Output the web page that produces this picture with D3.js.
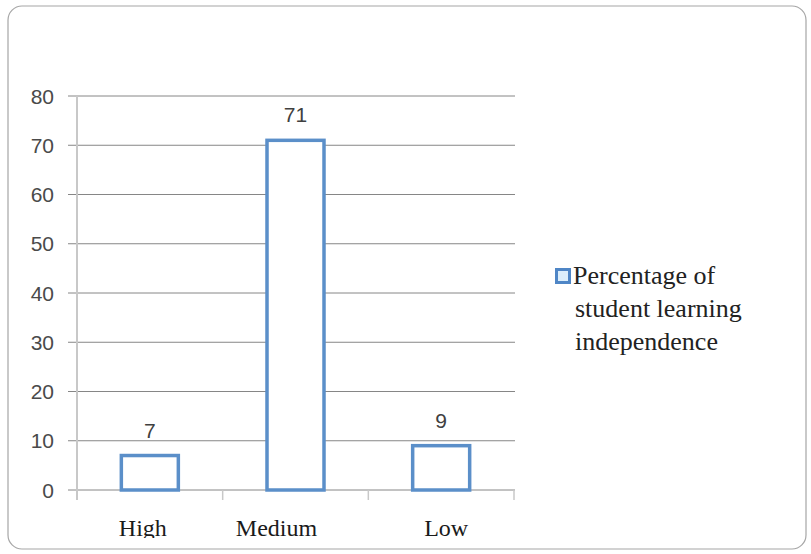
<!DOCTYPE html>
<html><head><meta charset="utf-8">
<script src="https://cdn.jsdelivr.net/npm/d3@7"></script>
<style>body{margin:0;background:#fff}svg{display:block}</style>
</head><body>
<script>
const categories = ["High", "Medium", "Low"];
const values = [7, 71, 9];
const yTicks = [0, 10, 20, 30, 40, 50, 60, 70, 80];
const legendLines = ["Percentage of", "student learning", "independence"];

const W = 811, H = 554;
const svg = d3.select("body").append("svg").attr("width", W).attr("height", H);

svg.append("rect").attr("x", 8).attr("y", 6).attr("width", 798).attr("height", 543)
  .attr("rx", 14).attr("fill", "#fff").attr("stroke", "#a6a6a6").attr("stroke-width", 1.2);

svg.append("defs").append("clipPath").attr("id", "clip")
  .append("rect").attr("x", 0).attr("y", 0).attr("width", W).attr("height", 538);

const x = d3.scaleBand().domain(categories).range([77, 514]).paddingInner(0).paddingOuter(0);
const y = d3.scaleLinear().domain([0, 80]).range([490, 96]);
const sans = "'Liberation Sans', Arial, sans-serif";
const serif = "'Liberation Serif', 'Times New Roman', serif";

const g = svg.append("g");
g.selectAll("line.grid").data(yTicks).join("line")
  .attr("x1", 68).attr("x2", 515).attr("y1", d => y(d)).attr("y2", d => y(d))
  .attr("stroke", "#868686").attr("stroke-width", 1);
g.append("line").attr("x1", 77).attr("x2", 77).attr("y1", 96).attr("y2", 500)
  .attr("stroke", "#c8c8c8").attr("stroke-width", 2);
const bounds = [77].concat(categories.map(c => x(c) + x.bandwidth()));
g.selectAll("line.ct").data(bounds).join("line")
  .attr("x1", d => d).attr("x2", d => d).attr("y1", 490).attr("y2", 500)
  .attr("stroke", "#c8c8c8").attr("stroke-width", 1.5);
g.selectAll("text.yl").data(yTicks).join("text")
  .attr("x", 54).attr("y", d => y(d) + 7.5).attr("text-anchor", "end")
  .attr("font-family", sans).attr("font-size", 21)
  .attr("fill", "#4a4a4a").text(d => d);
const bw = 57;
g.selectAll("rect.bar").data(values).join("rect")
  .attr("x", (d, i) => x(categories[i]) + x.bandwidth() / 2 - bw / 2)
  .attr("width", bw)
  .attr("y", d => y(d)).attr("height", d => y(0) - y(d))
  .attr("fill", "#fff").attr("stroke", "#5b8fc9").attr("stroke-width", 3.5);
g.selectAll("text.vl").data(values).join("text")
  .attr("x", (d, i) => x(categories[i]) + x.bandwidth() / 2)
  .attr("y", d => y(d) - 18).attr("text-anchor", "middle")
  .attr("font-family", sans).attr("font-size", 21)
  .attr("fill", "#404040").text(d => d);
const labelNudge = { High: -7, Medium: -19, Low: 5 };
svg.append("g").attr("clip-path", "url(#clip)").selectAll("text").data(categories).join("text")
  .attr("x", d => x(d) + x.bandwidth() / 2 + labelNudge[d]).attr("y", 536).attr("text-anchor", "middle")
  .attr("font-family", serif).attr("font-size", 24)
  .attr("fill", "#1a1a1a").text(d => d);
svg.append("rect").attr("x", 556.5).attr("y", 269.5).attr("width", 13).attr("height", 13)
  .attr("fill", "#dceefb").attr("stroke", "#4f86c6").attr("stroke-width", 3);
svg.append("g").selectAll("text").data(legendLines).join("text")
  .attr("x", (d, i) => i === 0 ? 573 : 575).attr("y", (d, i) => 284 + i * 33)
  .attr("font-family", serif).attr("font-size", 26)
  .attr("fill", "#222").text(d => d);
</script>
</body></html>
